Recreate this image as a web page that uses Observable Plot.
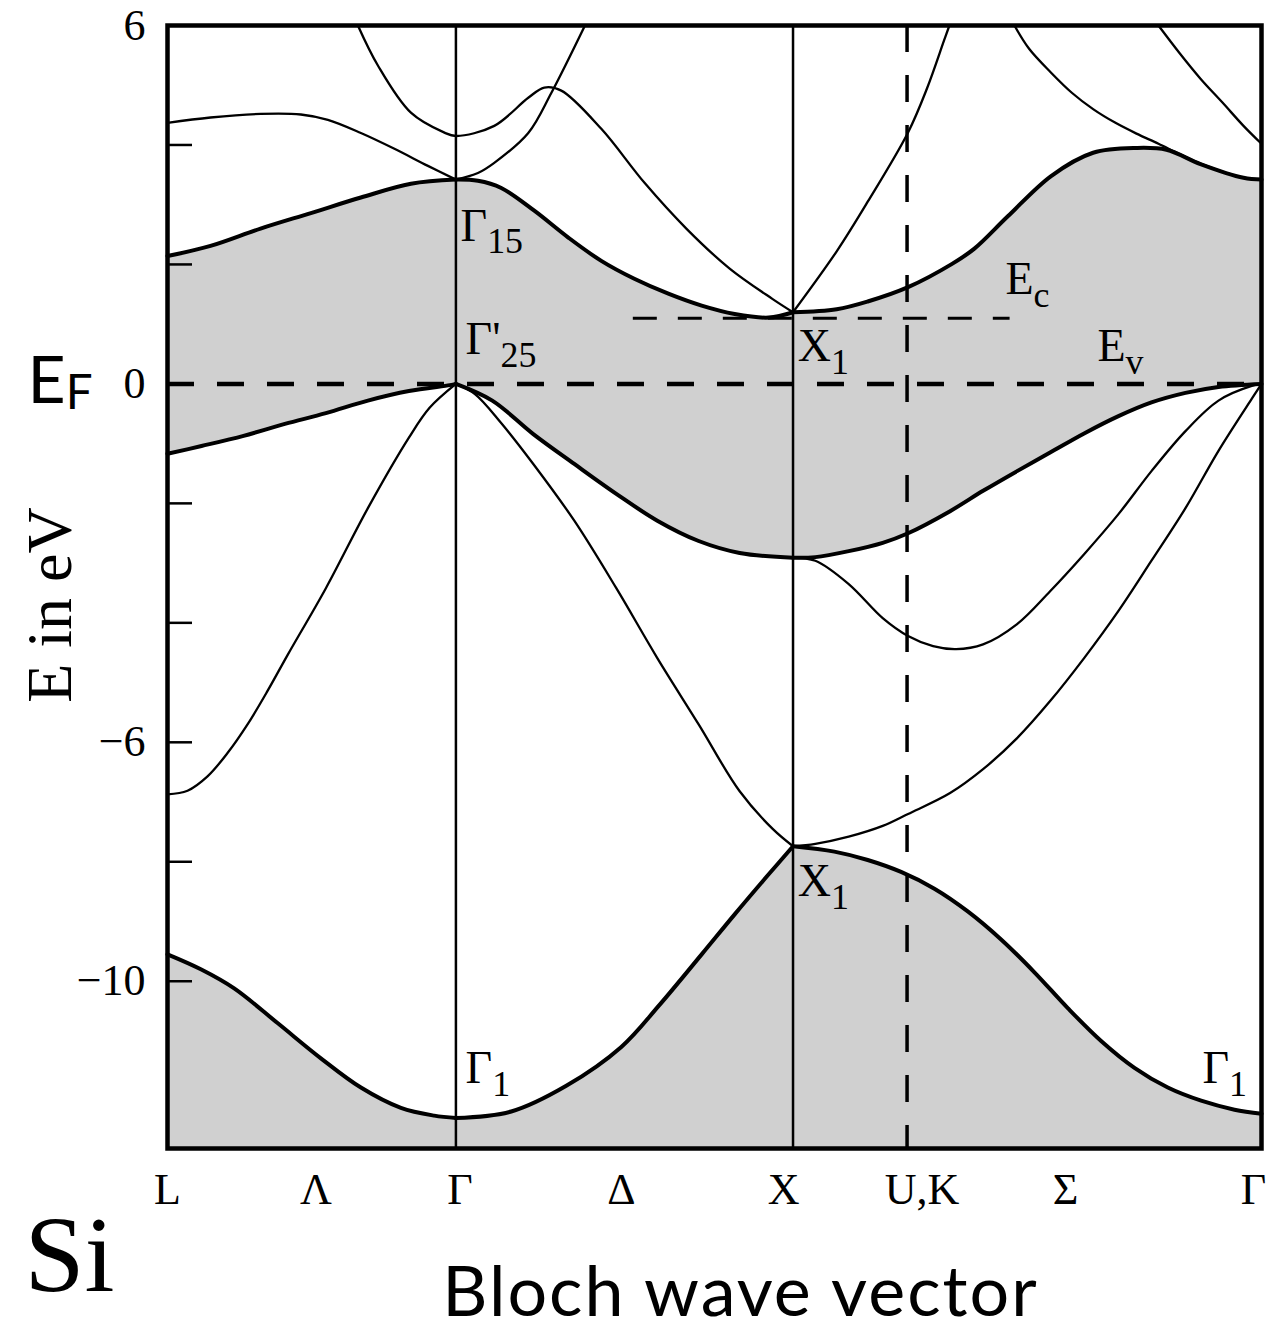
<!DOCTYPE html>
<html><head><meta charset="utf-8">
<script src="https://cdn.jsdelivr.net/npm/d3@7"></script>
<script src="https://cdn.jsdelivr.net/npm/@observablehq/plot@0.6"></script>
<style>body{margin:0;background:#fff}</style>
</head><body><div id="chart"></div>
<script>
// ---- symmetry points along the k path (units of 2π/a) ----
const symK = [0, 0.865, 1.876, 2.218, 3.281]; // L, Γ, X, U/K, Γ
const xLabelK = [0, 0.445, 0.877, 1.361, 1.848, 2.263, 2.693, 3.257];
const xLabelText = ["L", "Λ", "Γ", "Δ", "X", "U,K", "Σ", "Γ"];
const yTicks = [6, 4, 2, 0, -2, -4, -6, -8, -10];
const yTickLabels = [6, 0, -6, -10];
const yDomain = [-12.8, 6];
const Ev = 0, Ec = 1.1, EcRange = [1.397, 2.527];

// ---- bands: sections L-Γ, Γ-X, X-(U,K)-Γ ; points [k, E in eV] ----
const band1 = [
  [[0,-9.55],[0.10,-9.80],[0.20,-10.12],[0.33,-10.70],[0.46,-11.29],[0.58,-11.78],[0.70,-12.12],[0.80,-12.25],[0.865,-12.29]],
  [[0.865,-12.29],[1.031,-12.18],[1.196,-11.75],[1.361,-11.10],[1.475,-10.40],[1.602,-9.55],[1.701,-8.88],[1.803,-8.21],[1.876,-7.74]],
  [[1.876,-7.74],[2.0,-7.83],[2.10,-7.97],[2.20,-8.17],[2.30,-8.45],[2.40,-8.83],[2.50,-9.30],[2.60,-9.85],[2.70,-10.45],[2.80,-11.0],[2.90,-11.45],[3.00,-11.78],[3.10,-12.0],[3.20,-12.15],[3.281,-12.22]]
];
const band2 = [
  [[0,-6.87],[0.06,-6.81],[0.12,-6.57],[0.18,-6.18],[0.24,-5.70],[0.30,-5.14],[0.36,-4.54],[0.475,-3.42],[0.601,-2.08],[0.724,-0.90],[0.786,-0.40],[0.865,0]],
  [[0.865,0],[0.922,-0.17],[1.0,-0.65],[1.097,-1.34],[1.220,-2.29],[1.346,-3.42],[1.469,-4.59],[1.593,-5.70],[1.716,-6.82],[1.815,-7.45],[1.876,-7.74]],
  [[1.876,-7.74],[1.943,-7.70],[2.043,-7.58],[2.145,-7.40],[2.221,-7.20],[2.347,-6.85],[2.446,-6.45],[2.548,-5.93],[2.647,-5.31],[2.749,-4.59],[2.852,-3.80],[2.951,-2.96],[3.053,-2.08],[3.152,-1.12],[3.254,-0.23],[3.281,0]]
];
const band3 = [
  [[0,-1.17],[0.102,-1.04],[0.228,-0.87],[0.352,-0.67],[0.475,-0.49],[0.601,-0.28],[0.724,-0.12],[0.847,-0.02],[0.865,0]],
  [[0.865,0],[0.974,-0.28],[1.097,-0.84],[1.220,-1.34],[1.346,-1.84],[1.469,-2.29],[1.593,-2.63],[1.716,-2.83],[1.876,-2.91]],
  [[1.876,-2.91],[1.943,-2.90],[2.043,-2.80],[2.145,-2.66],[2.221,-2.50],[2.347,-2.13],[2.446,-1.79],[2.548,-1.46],[2.647,-1.15],[2.749,-0.83],[2.852,-0.54],[2.951,-0.31],[3.053,-0.15],[3.152,-0.05],[3.281,0]]
];
const band4 = [
  [[1.876,-2.91],[1.943,-2.96],[2.043,-3.35],[2.145,-3.92],[2.221,-4.22],[2.296,-4.39],[2.365,-4.44],[2.446,-4.36],[2.548,-4.02],[2.647,-3.47],[2.749,-2.85],[2.852,-2.18],[2.951,-1.46],[3.053,-0.79],[3.152,-0.28],[3.254,-0.03],[3.281,0]]
];
const band5 = [
  [[0,2.14],[0.129,2.31],[0.279,2.60],[0.430,2.86],[0.580,3.12],[0.730,3.35],[0.865,3.42]],
  [[0.865,3.42],[0.931,3.40],[1.001,3.28],[1.100,2.90],[1.202,2.45],[1.301,2.06],[1.400,1.76],[1.502,1.51],[1.602,1.31],[1.701,1.17],[1.803,1.11],[1.876,1.20]],
  [[1.876,1.20],[2.007,1.25],[2.10,1.38],[2.221,1.62],[2.353,2.01],[2.419,2.26],[2.521,2.81],[2.650,3.48],[2.776,3.87],[2.906,3.95],[2.996,3.92],[3.098,3.68],[3.227,3.45],[3.281,3.42]]
];
const band6 = [
  [[0,4.37],[0.129,4.46],[0.279,4.52],[0.400,4.51],[0.481,4.42],[0.580,4.20],[0.679,3.94],[0.781,3.65],[0.865,3.42]]
];
const upperA = [ [[0.865,3.42],[0.931,3.53],[0.980,3.70],[1.082,4.20],[1.151,4.87],[1.252,6.0]] ];
const upperB = [ [[0.571,6.0],[0.631,5.33],[0.730,4.54],[0.829,4.21],[0.865,4.15],[0.980,4.32],[1.082,4.79],[1.130,4.96],[1.181,4.91],[1.301,4.27],[1.430,3.37],[1.556,2.60],[1.686,1.93],[1.815,1.42],[1.876,1.20]] ];
const upperD = [ [[1.876,1.20],[2.007,2.22],[2.10,3.05],[2.221,4.21],[2.278,4.95],[2.329,5.75],[2.345,6.0]] ];
const upperE = [ [[2.540,6.0],[2.584,5.61],[2.650,5.21],[2.713,4.87],[2.776,4.60],[2.843,4.37],[2.906,4.19],[2.972,4.02],[3.035,3.85],[3.098,3.69],[3.227,3.45],[3.281,3.42]] ];
const upperF = [ [[2.972,6.0],[3.035,5.54],[3.098,5.11],[3.164,4.71],[3.227,4.32],[3.281,4.02]] ];

// ---- point labels ----
const labelText = ["Γ_15", "Γ'_25", "X_1", "X_1", "E_c", "E_v", "Γ_1", "Γ_1"];
const labelK = [0.879, 0.894, 1.890, 1.890, 2.513, 2.789, 0.894, 3.104];
const labelE = [2.40, 0.50, 0.385, -8.58, 1.51, 0.385, -11.71, -11.71];

// ---- build tables ----
function table(name, secs) {
  const rows = [];
  secs.forEach((s, j) => s.forEach(([k, E]) => rows.push({band: name, sec: name + "-" + j, k, E})));
  return rows;
}
const thick = [...table("b1", band1), ...table("b3", band3), ...table("b5", band5)];
const thin = [...table("b2", band2), ...table("b4", band4), ...table("b6", band6),
  ...table("uA", upperA), ...table("uB", upperB), ...table("uD", upperD), ...table("uE", upperE), ...table("uF", upperF)];
const labels = labelText.map((t, i) => ({t, k: labelK[i], E: labelE[i]}));

const serif = "Liberation Serif, Times New Roman, serif";
const sans = "Lato, Open Sans, sans-serif";
const gray = "#d0d0d0";
const dash = "27,23";
const curve = "catmull-rom";
const numFmt = d => (d < 0 ? "\u2212" + (-d) : String(d));

const chart = Plot.plot({
  width: 1267, height: 1329,
  marginTop: 25, marginBottom: 181, marginLeft: 167, marginRight: 6,
  x: {domain: [symK[0], symK[4]]},
  y: {domain: yDomain},
  style: {background: "white", color: "black"},
  marks: [
    Plot.areaY(table("b5", band5), {x: "k", y1: yDomain[0], y2: "E", z: "sec", curve, fill: gray}),
    Plot.areaY(table("b3", band3), {x: "k", y1: yDomain[0], y2: "E", z: "sec", curve, fill: "white"}),
    Plot.areaY(table("b1", band1), {x: "k", y1: yDomain[0], y2: "E", z: "sec", curve, fill: gray}),
    Plot.ruleY([Ev], {strokeWidth: 4.5, strokeDasharray: dash}),
    Plot.ruleY([Ec], {x1: EcRange[0], x2: EcRange[1], strokeWidth: 3, strokeDasharray: "24,21"}),
    Plot.ruleX([symK[3]], {strokeWidth: 3.5, strokeDasharray: dash}),
    Plot.ruleX([symK[1], symK[2]], {strokeWidth: 2.5}),
    Plot.line(thin, {x: "k", y: "E", z: "sec", curve, stroke: "black", strokeWidth: 2.3}),
    Plot.line(thick, {x: "k", y: "E", z: "sec", curve, stroke: "black", strokeWidth: 4}),
    Plot.text(labels, {x: "k", y: "E", text: "t", textAnchor: "start", lineAnchor: "bottom", fontSize: 46, fontFamily: serif}),
    Plot.axisY(yTicks, {tickSize: -25, tickFormat: () => "", strokeWidth: 2.5, label: null}),
    Plot.axisY(yTickLabels, {tickSize: 0, tickPadding: 22, fontSize: 44, fontFamily: serif, label: null, tickFormat: numFmt}),
    Plot.axisX(xLabelK, {tickSize: 0, tickPadding: 24, fontSize: 44, fontFamily: serif, label: null, tickFormat: (d, i) => xLabelText[i]}),
    Plot.text([Ev], {y: d => d, text: () => "E_F", frameAnchor: "left", dx: -140, dy: 19, textAnchor: "start", lineAnchor: "bottom", fontSize: 66, fontFamily: sans}),
    Plot.text(["E in eV"], {frameAnchor: "left", dx: -117, dy: 18, rotate: -90, textAnchor: "middle", lineAnchor: "middle", fontSize: 64, fontFamily: serif}),
    Plot.text(["Si"], {frameAnchor: "bottom-left", dx: -143, dy: 142, textAnchor: "start", lineAnchor: "bottom", fontSize: 108, fontFamily: serif}),
    Plot.text(["Bloch wave vector"], {frameAnchor: "bottom", dx: 26, dy: 167, textAnchor: "middle", lineAnchor: "bottom", fontSize: 70, fontFamily: sans}),
    Plot.frame({strokeWidth: 4.5})
  ]
});

// subscripts: "main_sub"; letter spacing for the x title
d3.select(chart).selectAll("text").each(function() {
  const t = this.textContent;
  if (t === "Bloch wave vector") { this.style.letterSpacing = "2px"; return; }
  const i = t.indexOf("_");
  if (i < 0) return;
  const fs = parseFloat(this.parentNode.getAttribute("font-size")) || 46;
  const big = fs >= 60;
  const sel = d3.select(this);
  sel.text(null);
  sel.append("tspan").text(t.slice(0, i));
  sel.append("tspan").attr("font-size", big ? fs * 0.72 : fs * 0.78).attr("dy", big ? fs * 0.09 : fs * 0.28).text(t.slice(i + 1));
});

document.getElementById("chart").appendChild(chart);
</script></body></html>
